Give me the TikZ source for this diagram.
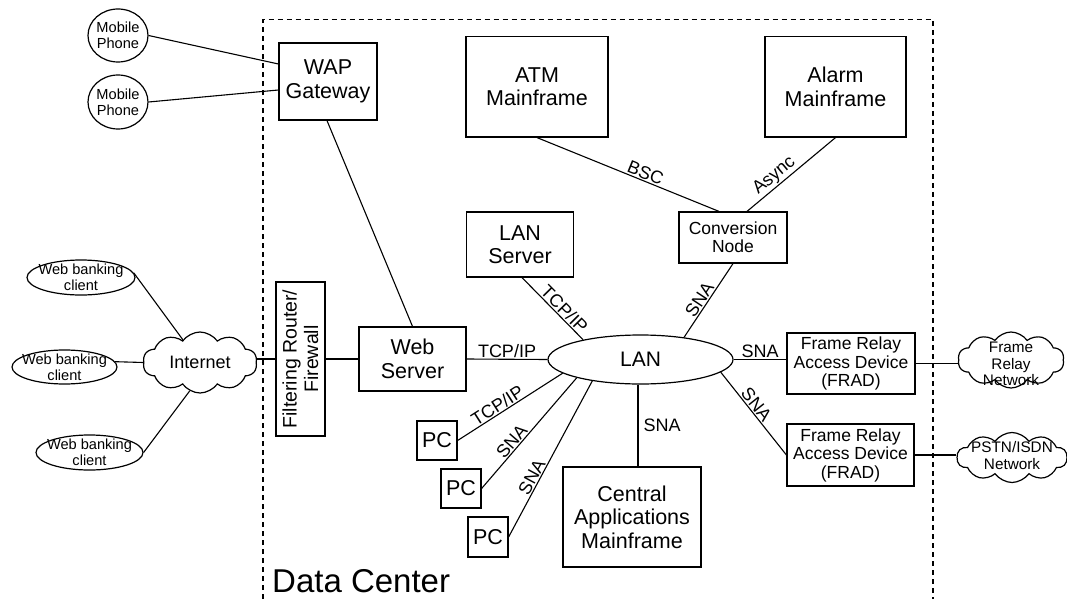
\documentclass[tikz,border=0pt]{standalone}
\usepackage{fontspec}
\setmainfont{Liberation Sans}
\usetikzlibrary{shapes.geometric,shapes.symbols}
\begin{document}
\begin{tikzpicture}[x=1pt,y=-1pt,
  box/.style 2 args={draw, line width=1.2pt, rectangle, inner sep=0pt, align=center,
    minimum width=#1, minimum height=#2, font=\fontsize{21.5}{23.5}\selectfont},
  midfont/.style={font=\fontsize{17.5}{18.5}\selectfont},
  oval/.style 2 args={draw, line width=1.2pt, ellipse, inner sep=0pt,
    minimum width=#1, minimum height=#2},
  puff/.style 2 args={draw, line width=1.2pt, cloud, cloud puffs=10, cloud puff arc=110,
    cloud ignores aspect, inner sep=0pt, minimum width=#1, minimum height=#2},
  smalltext/.style={font=\fontsize{14.6}{15.8}\selectfont, align=center},
  cloudtext/.style={font=\fontsize{15.3}{16.4}\selectfont, align=center},
  link/.style={line width=1.1pt},
  lbl/.style={font=\fontsize{18}{20}\selectfont, inner sep=1pt},
  frame/.style={line width=1.3pt, dash pattern=on 5pt off 4pt}
]
\useasboundingbox (0,0) rectangle (1067,599);

% data centre boundary
\draw[frame] (263,599) -- (263,19.5) -- (933,19.5) -- (933,599);
\node[anchor=base west, inner sep=0pt, font=\fontsize{33}{36}\selectfont] (dc) at (272,592) {Data Center};

% mobile side
\node[oval={60pt}{53pt}, label={[smalltext]center:Mobile\\Phone}] (ph1) at (118,35.5) {};
\node[oval={60pt}{54pt}, label={[smalltext]center:Mobile\\Phone}] (ph2) at (118,102) {};
\node[box={98pt}{77pt}] (wap) at (328,81.5) {WAP\\Gateway};

% mainframes and conversion
\node[box={142pt}{100.5pt}] (atm) at (537,86.75) {ATM\\Mainframe};
\node[box={141pt}{100.5pt}] (alarm) at (835.5,86.75) {Alarm\\Mainframe};
\node[box={108pt}{51pt}, font=\fontsize{17.5}{18}\selectfont] (conv) at (733,237.5) {Conversion\\Node};
\node[box={107pt}{65pt}] (lansrv) at (520,244.5) {LAN\\Server};

% internet side
\node[oval={108pt}{35pt}, label={[smalltext]center:Web banking\\client}] (wbc1) at (81,277.5) {};
\node[oval={105pt}{34pt}, label={[smalltext]center:Web banking\\client}] (wbc2) at (64.5,367) {};
\node[oval={107pt}{35pt}, label={[smalltext]center:Web banking\\client}] (wbc3) at (89.5,452.5) {};
\node[puff={114pt}{61pt}, label={[font=\fontsize{18}{20}\selectfont]center:Internet}] (inet) at (200,362.5) {};
\node[box={154pt}{49pt}, rotate=90, font=\fontsize{19.5}{21.5}\selectfont] (fw) at (300.5,359) {Filtering Router/\\Firewall};
\node[box={107pt}{64pt}] (web) at (412.5,359) {Web\\Server};

% LAN and attached devices
\node[oval={185pt}{49pt}, font=\fontsize{21}{23}\selectfont] (lan) at (640.5,359.5) {LAN};
\node[box={128pt}{61pt}, midfont] (frad1) at (851,363.5) {Frame Relay\\Access Device\\(FRAD)};
\node[box={127pt}{62pt}, midfont] (frad2) at (850.5,455) {Frame Relay\\Access Device\\(FRAD)};
\node[puff={106pt}{56pt}, label={[cloudtext, yshift=-4pt]center:Frame\\Relay\\Network}] (frnet) at (1011,360) {};
\node[puff={110pt}{50pt}, label={[cloudtext, yshift=2pt]center:PSTN/ISDN\\Network}] (pstn) at (1012,457.5) {};
\node[box={138pt}{100pt}] (central) at (632,517) {Central\\Applications\\Mainframe};
\node[box={40pt}{39pt}] (pc1) at (437,440.5) {PC};
\node[box={40pt}{39pt}] (pc2) at (461,488.5) {PC};
\node[box={40pt}{40pt}] (pc3) at (488,537) {PC};

% connections (the firewall box is turned by 90 degrees: its north side faces left)
\draw[link] (ph1.east) -- ([yshift=17.5pt]wap.west);
\draw[link] (ph2.east) -- ([yshift=-8.5pt]wap.west);
\draw[link] ([xshift=-1pt]wap.south) -- (web.north);
\draw[link] (atm.south) -- ([xshift=-14pt]conv.north) node[lbl, pos=0.58, sloped, above] {BSC};
\draw[link] (alarm.south) -- ([xshift=14pt]conv.north) node[lbl, pos=0.62, sloped, above] {Async};
\draw[link] (wbc1.5) -- (inet.127);
\draw[link] (wbc2.6) -- (inet.west);
\draw[link] (wbc3.east) -- (inet.250);
\draw[link] (fw.north -| inet.east) -- (fw.north);
\draw[link] (fw.south) -- (fw.south -| web.west);
\draw[link] (web.east) -- (lan.west) node[lbl, midway, above] {TCP/IP};
\draw[link] ([xshift=2pt]lansrv.south) -- (lan.161) node[lbl, pos=0.6, sloped, above] {TCP/IP};
\draw[link] (conv.south) -- (lan.27) node[lbl, pos=0.55, sloped, above] {SNA};
\draw[link] (lan.east) -- (lan.east -| frad1.west) node[lbl, midway, above] {SNA};
\draw[link] (lan.351) -- (frad2.west) node[lbl, pos=0.45, sloped, above] {SNA};
\draw[link] (frad1.east) -- (frad1.east -| frnet.west);
\draw[link] (frad2.east) -- (frad2.east -| pstn.west);
\draw[link] ([xshift=-2.5pt]lan.south) -- ([xshift=-2.5pt]lan.south |- central.north) node[lbl, midway, right=4pt] {SNA};
\draw[link] (pc1.east) -- (lan.190) node[lbl, pos=0.42, sloped, above] {TCP/IP};
\draw[link] (pc2.east) -- (lan.196) node[lbl, pos=0.38, sloped, above] {SNA};
\draw[link] (pc3.east) -- (lan.204) node[lbl, pos=0.36, sloped, above] {SNA};
\end{tikzpicture}
\end{document}
